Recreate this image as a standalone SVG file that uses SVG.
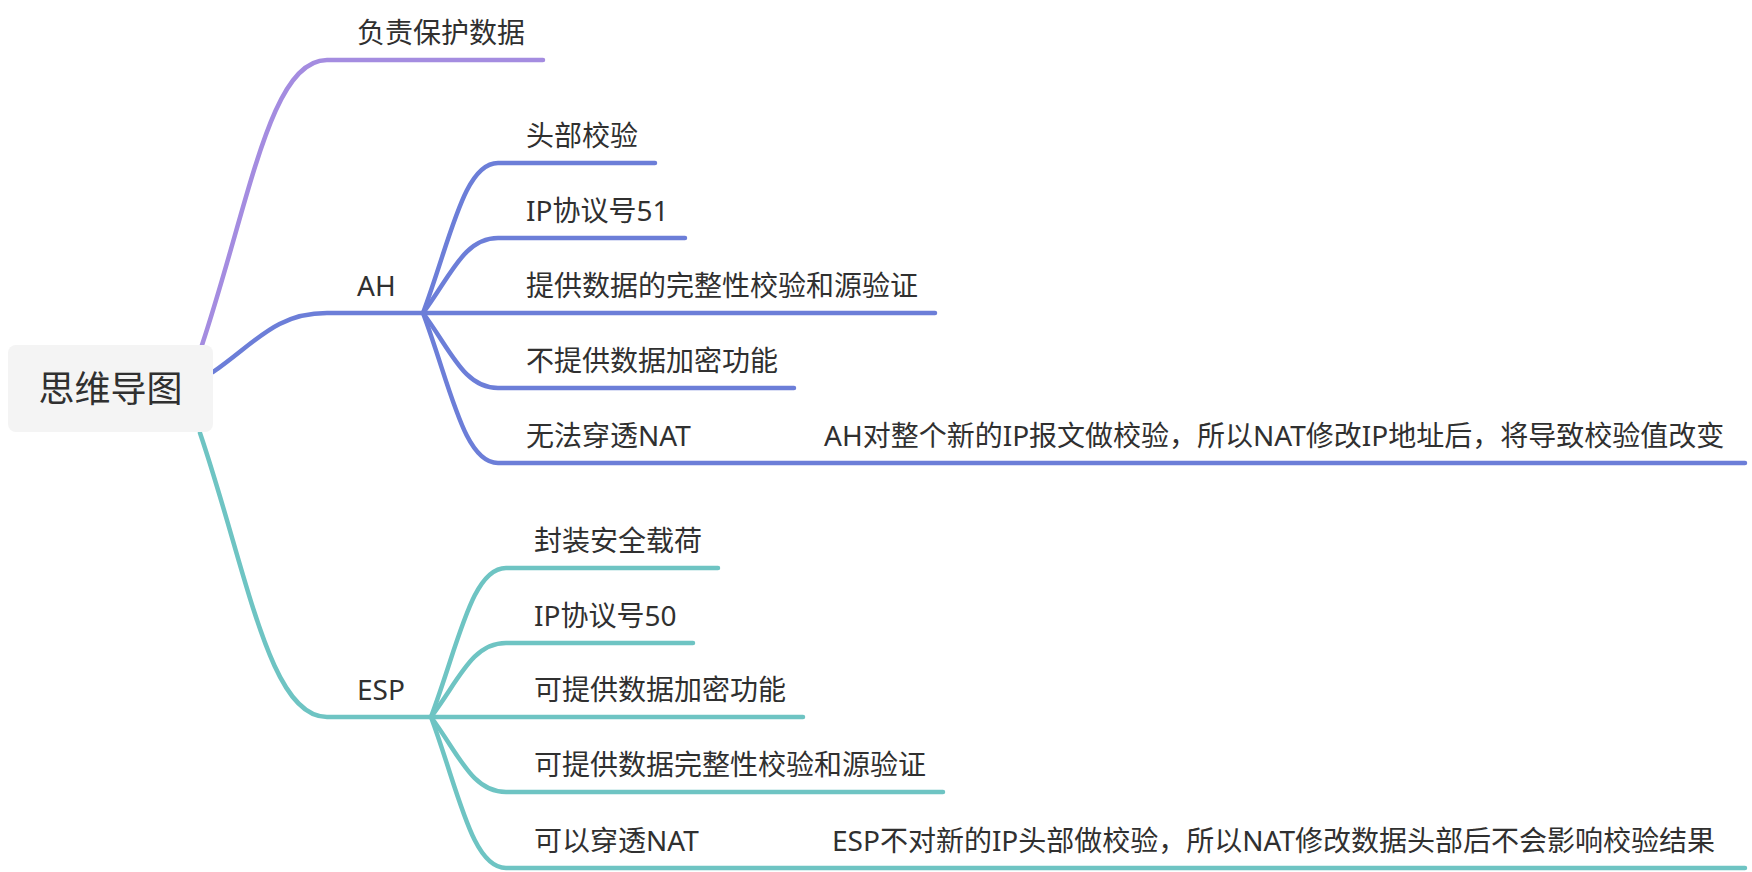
<svg xmlns="http://www.w3.org/2000/svg" width="1752" height="872" viewBox="0 0 1752 872">
<style>
text{font-family:"Noto Sans","Noto Sans CJK SC",sans-serif;font-size:28px;fill:#303030}
.root{font-size:36px}
.c{fill:none;stroke-width:4.5;stroke-linecap:round;stroke-linejoin:round}
.p{stroke:#a48ce0}
.b{stroke:#6c7ed8}
.t{stroke:#6ec4c3}
</style>
<rect width="1752" height="872" fill="#ffffff"/>
<g id="connectors">
<path class="c p" d="M202,345 C250,200 270,60 327,60 L543,60"/>
<path class="c b" d="M213,372 C256,342 276,313 327,313 L423,313"/>
<path class="c t" d="M200,433 C248,575 269,717 327,717 L431,717"/>
<path class="c b" d="M423,313 C451,238 464,163 498,163 L655,163"/>
<path class="c b" d="M423,313 C451,275.5 464,238 498,238 L685,238"/>
<path class="c b" d="M423,313 L935,313"/>
<path class="c b" d="M423,313 C451,350.5 464,388 498,388 L794,388"/>
<path class="c b" d="M423,313 C451,388 464,463 498,463 L1745,463"/>
<path class="c t" d="M431,717 C459,642.5 472,568 506,568 L718,568"/>
<path class="c t" d="M431,717 C459,680 472,643 506,643 L693,643"/>
<path class="c t" d="M431,717 L803,717"/>
<path class="c t" d="M431,717 C459,754.5 472,792 506,792 L943,792"/>
<path class="c t" d="M431,717 C459,792.5 472,868 506,868 L1745,868"/>
</g>
<g id="root">
<rect x="8" y="345" width="205" height="87" rx="8" fill="#f4f4f4"/>
<text class="root" x="110.5" y="402" text-anchor="middle">思维导图</text>
</g>
<g id="n-protect"><text x="357" y="43">负责保护数据</text></g>
<g id="n-ah"><text x="357" y="296">AH</text></g>
<g id="n-ah-1"><text x="526" y="146">头部校验</text></g>
<g id="n-ah-2"><text x="526" y="221">IP协议号51</text></g>
<g id="n-ah-3"><text x="526" y="296">提供数据的完整性校验和源验证</text></g>
<g id="n-ah-4"><text x="526" y="371">不提供数据加密功能</text></g>
<g id="n-ah-5"><text x="526" y="446">无法穿透NAT</text></g>
<g id="n-ah-5-note"><text x="824" y="446">AH对整个新的IP报文做校验，所以NAT修改IP地址后，将导致校验值改变</text></g>
<g id="n-esp"><text x="357" y="700">ESP</text></g>
<g id="n-esp-1"><text x="534" y="551">封装安全载荷</text></g>
<g id="n-esp-2"><text x="534" y="626">IP协议号50</text></g>
<g id="n-esp-3"><text x="534" y="700">可提供数据加密功能</text></g>
<g id="n-esp-4"><text x="534" y="775">可提供数据完整性校验和源验证</text></g>
<g id="n-esp-5"><text x="534" y="851">可以穿透NAT</text></g>
<g id="n-esp-5-note"><text x="832" y="851">ESP不对新的IP头部做校验，所以NAT修改数据头部后不会影响校验结果</text></g>
</svg>
